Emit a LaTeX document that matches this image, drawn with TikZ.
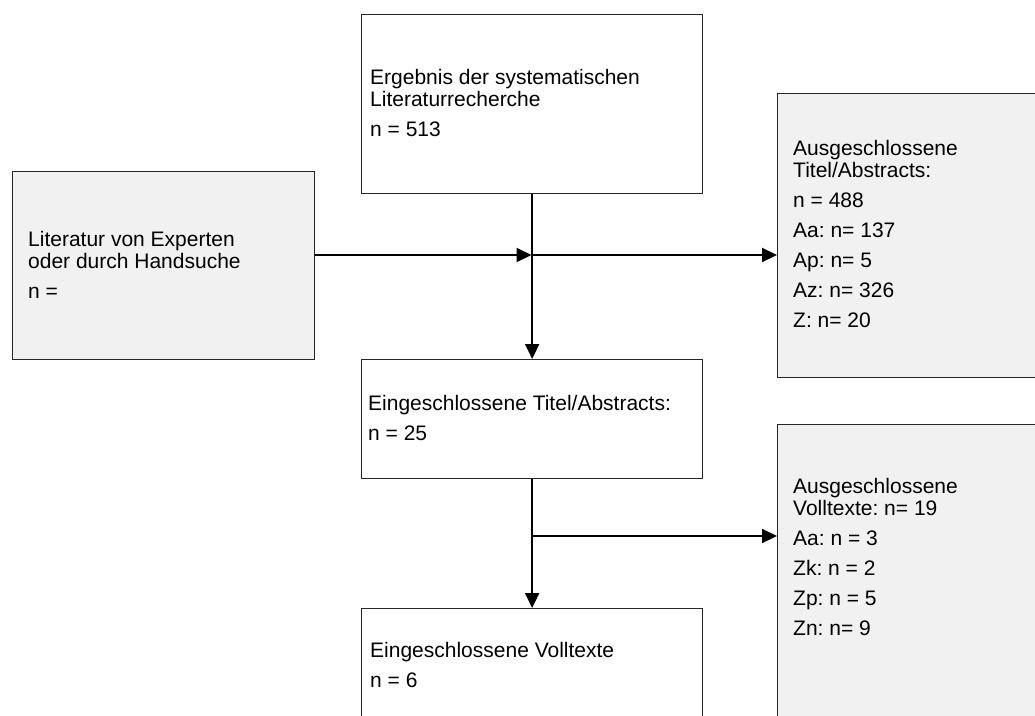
\documentclass[tikz,border=0pt]{standalone}
\usepackage{fontspec}
\setmainfont{Liberation Sans}
\usetikzlibrary{arrows.meta}
\definecolor{boxgray}{HTML}{F1F1F1}
\definecolor{boxline}{HTML}{262626}
\newcommand\boxtext[1]{\begin{tabular}[t]{@{}l@{}}#1\end{tabular}}
\frenchspacing
\begin{document}
\begin{tikzpicture}[x=1pt,y=-1pt,
  box/.style={draw=boxline, line width=1.3pt, inner sep=0pt, anchor=north west, fill=white},
  graybox/.style={box, fill=boxgray},
  txt/.style={inner sep=0pt, anchor=base west, font=\fontsize{21}{22}\selectfont\frenchspacing},
  conn/.style={line width=2pt, draw=black, -{Triangle[length=15pt,width=14pt]}}]
\useasboundingbox (0,0) rectangle (1035,715);
\clip (0,0) rectangle (1035,715);
% boxes
\node[box, minimum width=341pt, minimum height=179pt] (top) at (361,14) {};
\node[graybox, minimum width=302pt, minimum height=188pt] (left) at (12,171) {};
\node[graybox, minimum width=270pt, minimum height=284pt] (r1) at (777,93) {};
\node[box, minimum width=341pt, minimum height=119pt] (mid) at (361,359) {};
\node[graybox, minimum width=270pt, minimum height=310pt] (r2) at (777,424) {};
\node[box, minimum width=341pt, minimum height=130pt] (bot) at (361,608) {};
% texts
\node[txt] (toptxt) at (370,84) {\boxtext{Ergebnis der systematischen\\Literaturrecherche\\[8pt]n = 513}};
\node[txt] (lefttxt) at (28,246) {\boxtext{Literatur von Experten\\oder durch Handsuche\\[8pt]n =}};
\node[txt] (r1txt) at (793,155) {\boxtext{Ausgeschlossene\\Titel/Abstracts:\\[8pt]n = 488\\[8pt]Aa: n= 137\\[8pt]Ap: n= 5\\[8pt]Az: n= 326\\[8pt]Z: n= 20}};
\node[txt] (midtxt) at (368,410) {\boxtext{Eingeschlossene Titel/Abstracts:\\[8pt]n = 25}};
\node[txt] (r2txt) at (793,493) {\boxtext{Ausgeschlossene\\Volltexte: n= 19\\[8pt]Aa: n = 3\\[8pt]Zk: n = 2\\[8pt]Zp: n = 5\\[8pt]Zn: n= 9}};
\node[txt] (bottxt) at (370,657) {\boxtext{Eingeschlossene Volltexte\\[8pt]n = 6}};
% junctions
\coordinate (j1) at (531.5,255);
\coordinate (j2) at (531.5,536);
% connectors
\draw[conn] (top.south) -- (mid.north);
\draw[conn] (left.east |- j1) -- (j1);
\draw[conn] (j1) -- (j1 -| r1.west);
\draw[conn] (mid.south) -- (bot.north);
\draw[conn] (j2) -- (j2 -| r2.west);
\end{tikzpicture}
\end{document}
